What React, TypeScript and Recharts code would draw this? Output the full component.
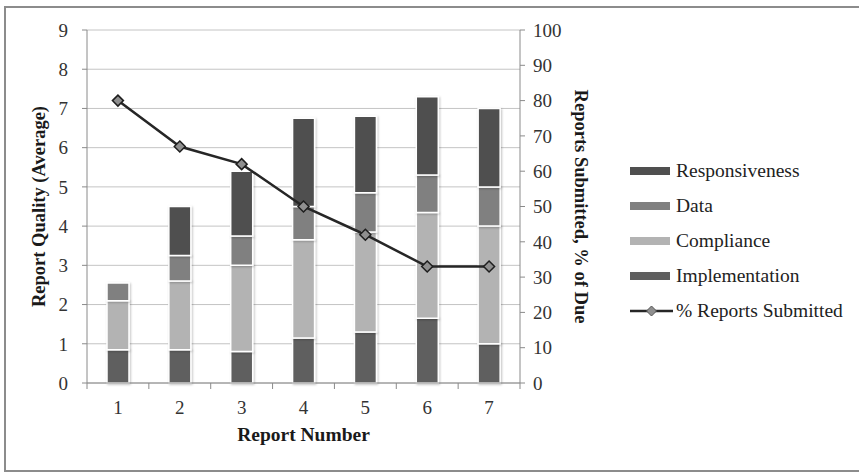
import {
  ComposedChart,
  Bar,
  Line,
  XAxis,
  YAxis,
  CartesianGrid,
  Legend,
} from "recharts";

const reports = ["1", "2", "3", "4", "5", "6", "7"];
const implementation = [0.85, 0.85, 0.8, 1.15, 1.3, 1.65, 1.0];
const compliance = [1.25, 1.75, 2.2, 2.5, 2.55, 2.7, 3.0];
const data = [0.45, 0.65, 0.75, 0.85, 1.0, 0.95, 1.0];
const responsiveness = [0, 1.25, 1.65, 2.25, 1.95, 2.0, 2.0];
const submittedPct = [80, 67, 62, 50, 42, 33, 33];

const qualityTicks = [0, 1, 2, 3, 4, 5, 6, 7, 8, 9];
const pctTicks = [0, 10, 20, 30, 40, 50, 60, 70, 80, 90, 100];

const rows = reports.map((r, i) => ({
  report: r,
  implementation: implementation[i],
  compliance: compliance[i],
  data: data[i],
  responsiveness: responsiveness[i],
  submitted: submittedPct[i],
}));

const SERIF = "Liberation Serif, DejaVu Serif, serif";
const AXIS = "#8a8a8a";

const colors = {
  responsiveness: "#4f4f4f",
  data: "#808080",
  compliance: "#b3b3b3",
  implementation: "#5f5f5f",
};

const legendItems = [
  { label: "Responsiveness", color: colors.responsiveness },
  { label: "Data", color: colors.data },
  { label: "Compliance", color: colors.compliance },
  { label: "Implementation", color: colors.implementation },
];

const Diamond = (props: any) => {
  const { cx, cy } = props;
  if (cx == null || cy == null) return null;
  const r = 5.5;
  return (
    <path
      d={`M${cx},${cy - r}L${cx + r},${cy}L${cx},${cy + r}L${cx - r},${cy}Z`}
      fill="#8f8f8f"
      stroke="#1e1e1e"
      strokeWidth={1.5}
    />
  );
};

// category ticks sit between the bars, labels stay centred under them
const ReportTick = (props: any) => {
  const { x, y, payload, index, visibleTicksCount } = props;
  const half = payload?.offset ?? 31;
  const top = y - 6;
  return (
    <g>
      <line x1={x - half} y1={top} x2={x - half} y2={top + 6} stroke={AXIS} />
      {index === visibleTicksCount - 1 && (
        <line x1={x + half} y1={top} x2={x + half} y2={top + 6} stroke={AXIS} />
      )}
      <text
        x={x}
        y={top + 31}
        textAnchor="middle"
        fill="#333"
        fontSize={19}
        fontFamily={SERIF}
      >
        {payload.value}
      </text>
    </g>
  );
};

const LegendBox = () => (
  <div style={{ fontFamily: SERIF, fontSize: 19.5, color: "#222" }}>
    {legendItems.map((item) => (
      <div
        key={item.label}
        style={{ display: "flex", alignItems: "center", height: 34.8 }}
      >
        <span
          style={{
            display: "inline-block",
            width: 40,
            height: 8,
            background: item.color,
            marginRight: 6,
          }}
        />
        {item.label}
      </div>
    ))}
    <div style={{ display: "flex", alignItems: "center", height: 34.8 }}>
      <svg width={44} height={12} style={{ marginRight: 2 }}>
        <line x1={0} y1={6} x2={43} y2={6} stroke="#262626" strokeWidth={2.5} />
        <path d="M21.5,1L26.5,6L21.5,11L16.5,6Z" fill="#8f8f8f" stroke="#555" />
      </svg>
      % Reports Submitted
    </div>
  </div>
);

export default function App() {
  return (
    <div
      style={{
        position: "absolute",
        left: 0,
        top: 0,
        width: 859,
        height: 473,
        background: "#fff",
      }}
    >
      <div
        style={{
          position: "absolute",
          left: 4,
          top: 6,
          width: 860,
          height: 466,
          border: "2px solid #8c8c8c",
          boxSizing: "border-box",
        }}
      />
      <ComposedChart
        width={859}
        height={473}
        data={rows}
        margin={{ top: 30, right: 219, bottom: 20, left: 0 }}
        style={{ position: "absolute", left: 0, top: 0 }}
      >
        <defs>
          <filter id="barShadow" x="-30%" y="-30%" width="160%" height="160%">
            <feDropShadow dx={1} dy={1} stdDeviation={1.2} floodColor="#000" floodOpacity={0.25} />
          </filter>
        </defs>
        <CartesianGrid vertical={false} stroke="#c4c4c4" yAxisId="left" />
        <XAxis
          dataKey="report"
          axisLine={{ stroke: AXIS }}
          tickLine={false}
          tickSize={6}
          tickMargin={0}
          height={70}
          tick={<ReportTick />}
          label={{
            value: "Report Number",
            position: "insideBottom",
            offset: 12,
            fill: "#1a1a1a",
            fontSize: 19.5,
            fontWeight: "bold",
            fontFamily: SERIF,
          }}
        />
        <YAxis
          yAxisId="left"
          domain={[0, 9]}
          ticks={qualityTicks}
          width={87}
          axisLine={{ stroke: AXIS }}
          tickLine={{ stroke: AXIS }}
          tickSize={5}
          tickMargin={14}
          tick={{ fill: "#333", fontSize: 19, fontFamily: SERIF }}
          label={{
            value: "Report Quality (Average)",
            angle: -90,
            position: "center",
            dx: -5,
            fill: "#1a1a1a",
            fontSize: 18.5,
            fontWeight: "bold",
            fontFamily: SERIF,
          }}
        />
        <YAxis
          yAxisId="right"
          orientation="right"
          domain={[0, 100]}
          ticks={pctTicks}
          width={120}
          axisLine={{ stroke: AXIS }}
          tickLine={{ stroke: AXIS }}
          tickSize={5}
          tickMargin={8}
          tick={{ fill: "#333", fontSize: 19, fontFamily: SERIF }}
          label={{
            value: "Reports Submitted, % of Due",
            angle: 90,
            position: "center",
            dx: 2,
            fill: "#1a1a1a",
            fontSize: 18.5,
            fontWeight: "bold",
            fontFamily: SERIF,
          }}
        />
        <Legend
          layout="vertical"
          align="center"
          verticalAlign="middle"
          content={<LegendBox />}
          wrapperStyle={{ left: 630, top: 154, width: 229 }}
        />
        <Bar yAxisId="left" dataKey="implementation" name="Implementation" stackId="q" fill={colors.implementation} stroke="#fff" strokeWidth={1.5} barSize={22} filter="url(#barShadow)" isAnimationActive={false} />
        <Bar yAxisId="left" dataKey="compliance" name="Compliance" stackId="q" fill={colors.compliance} stroke="#fff" strokeWidth={1.5} barSize={22} filter="url(#barShadow)" isAnimationActive={false} />
        <Bar yAxisId="left" dataKey="data" name="Data" stackId="q" fill={colors.data} stroke="#fff" strokeWidth={1.5} barSize={22} filter="url(#barShadow)" isAnimationActive={false} />
        <Bar yAxisId="left" dataKey="responsiveness" name="Responsiveness" stackId="q" fill={colors.responsiveness} stroke="#fff" strokeWidth={1.5} barSize={22} filter="url(#barShadow)" isAnimationActive={false} />
        <Line
          yAxisId="right"
          type="linear"
          dataKey="submitted"
          name="% Reports Submitted"
          stroke="#262626"
          strokeWidth={2.5}
          dot={<Diamond />}
          activeDot={false}
          isAnimationActive={false}
        />
      </ComposedChart>
    </div>
  );
}
